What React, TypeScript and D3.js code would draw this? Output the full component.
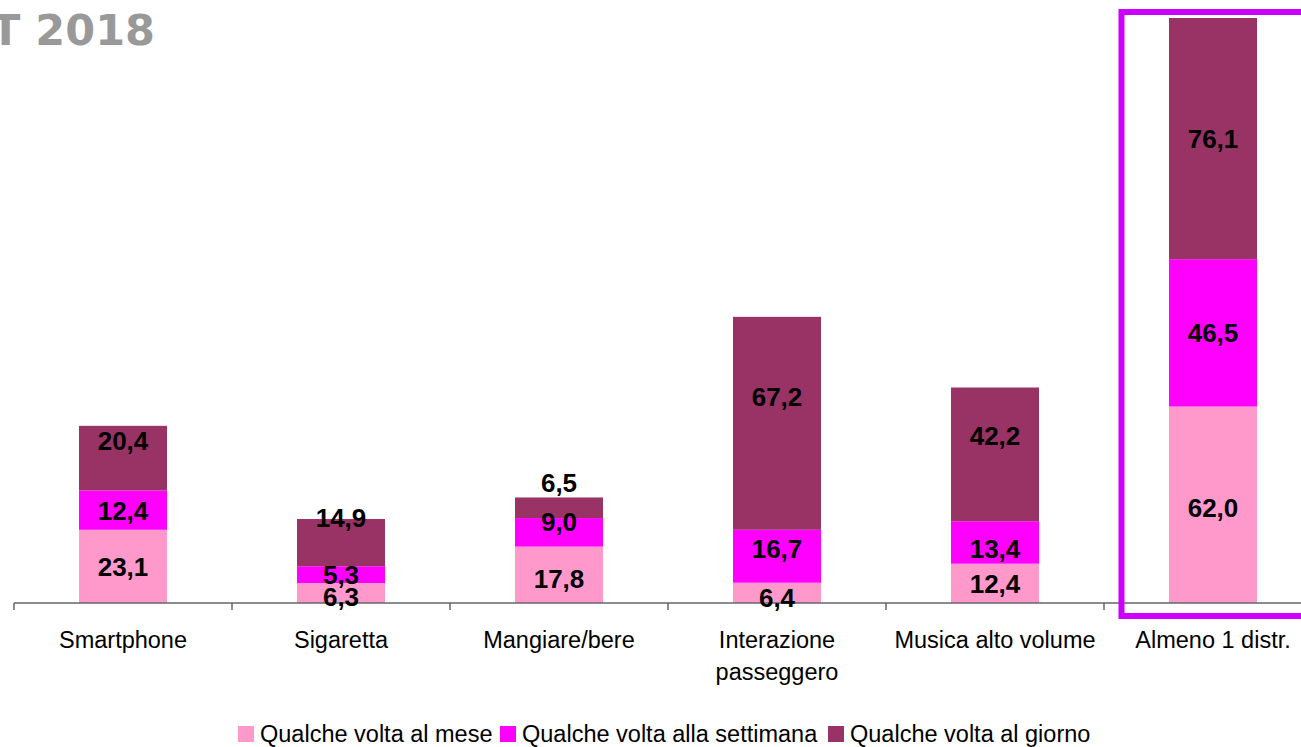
import React from "react";
import * as d3 from "d3";

const categories = ["Smartphone", "Sigaretta", "Mangiare/bere", "Interazione\npasseggero", "Musica alto volume", "Almeno 1 distr."];
const seriesNames = ["Qualche volta al mese", "Qualche volta alla settimana", "Qualche volta al giorno"];
const mese = [23.1, 6.3, 17.8, 6.4, 12.4, 62.0];
const settimana = [12.4, 5.3, 9.0, 16.7, 13.4, 46.5];
const giorno = [20.4, 14.9, 6.5, 67.2, 42.2, 76.1];

const colors = ["#FF99CC", "#FF00FF", "#993366"];
// manual label nudges (px), keyed "categoryIndex-seriesIndex"
const labelNudge: Record<string, number> = {
  "0-2": -18, "1-0": 4, "1-2": -25, "2-0": 4, "2-1": -11, "2-2": -25,
  "3-0": 5, "3-1": -8, "3-2": -27, "4-1": 6, "4-2": -19, "5-0": 3,
};

const W = 1301, H = 747;
const left = 14, right = 1322, baseY = 603;

export default function App() {
  const x = d3.scaleBand<number>().domain(d3.range(categories.length)).range([left, right]).paddingInner(0).paddingOuter(0);
  const totalMax = 184.6;
  const y = d3.scaleLinear().domain([0, totalMax]).range([baseY, 18]);
  const series = [mese, settimana, giorno];
  const stack = d3.stack<number>().keys(["0", "1", "2"]).value((i, k) => series[+k][i]);
  const stacked = stack(d3.range(categories.length));
  const barW = 88;
  const fmt = (v: number) => v.toFixed(1).replace(".", ",");
  const ticks = d3.range(categories.length + 1).map(i => left + i * x.bandwidth());

  return (
    <svg width={W} height={H} style={{ position: "absolute", left: 0, top: 0, fontFamily: "Liberation Sans, Arial, sans-serif" }}>
      <rect width={W} height={H} fill="#fff" />
      <text x={155} y={45} textAnchor="end" fontFamily="DejaVu Sans, Verdana, sans-serif" fontWeight="bold" fontSize={43} fill="#999999">T 2018</text>
      {stacked.map((s, si) => s.map((d, i) => {
        const cx = (x(i) as number) + x.bandwidth() / 2;
        return (
          <rect key={`${si}-${i}`} x={cx - barW / 2} y={y(d[1])} width={barW} height={y(d[0]) - y(d[1])} fill={colors[si]} />
        );
      }))}
      <line x1={left} x2={W} y1={baseY} y2={baseY} stroke="#666" strokeWidth={1.5} />
      {ticks.map((t, i) => (
        <line key={i} x1={t} x2={t} y1={baseY} y2={baseY + 7} stroke="#666" strokeWidth={1.5} />
      ))}
      {stacked.map((s, si) => s.map((d, i) => {
        const cx = (x(i) as number) + x.bandwidth() / 2;
        const cy = (y(d[0]) + y(d[1])) / 2 + (labelNudge[`${i}-${si}`] || 0);
        return (
          <text key={`l${si}-${i}`} x={cx} y={cy} dy="0.36em" textAnchor="middle" fontWeight="bold" fontSize={26} fill="#000">{fmt(series[si][i])}</text>
        );
      }))}
      {categories.map((c, i) => {
        const cx = (x(i) as number) + x.bandwidth() / 2;
        const lines = c.split("\n");
        return (
          <text key={`c${i}`} x={cx} y={648} textAnchor="middle" fontSize={23.5} fill="#000">
            {lines.map((l, j) => <tspan key={j} x={cx} dy={j === 0 ? 0 : 32}>{l}</tspan>)}
          </text>
        );
      })}
      <rect x={1121.5} y={12} width={200} height={604} fill="none" stroke="#CC00FF" strokeWidth={6} />
      {seriesNames.map((n, i) => {
        const xs = [238, 500, 828][i];
        return (
          <g key={`lg${i}`}>
            <rect x={xs} y={726} width={16} height={16} fill={colors[i]} />
            <text x={xs + 22} y={742} fontSize={23.5} fill="#000">{n}</text>
          </g>
        );
      })}
    </svg>
  );
}
